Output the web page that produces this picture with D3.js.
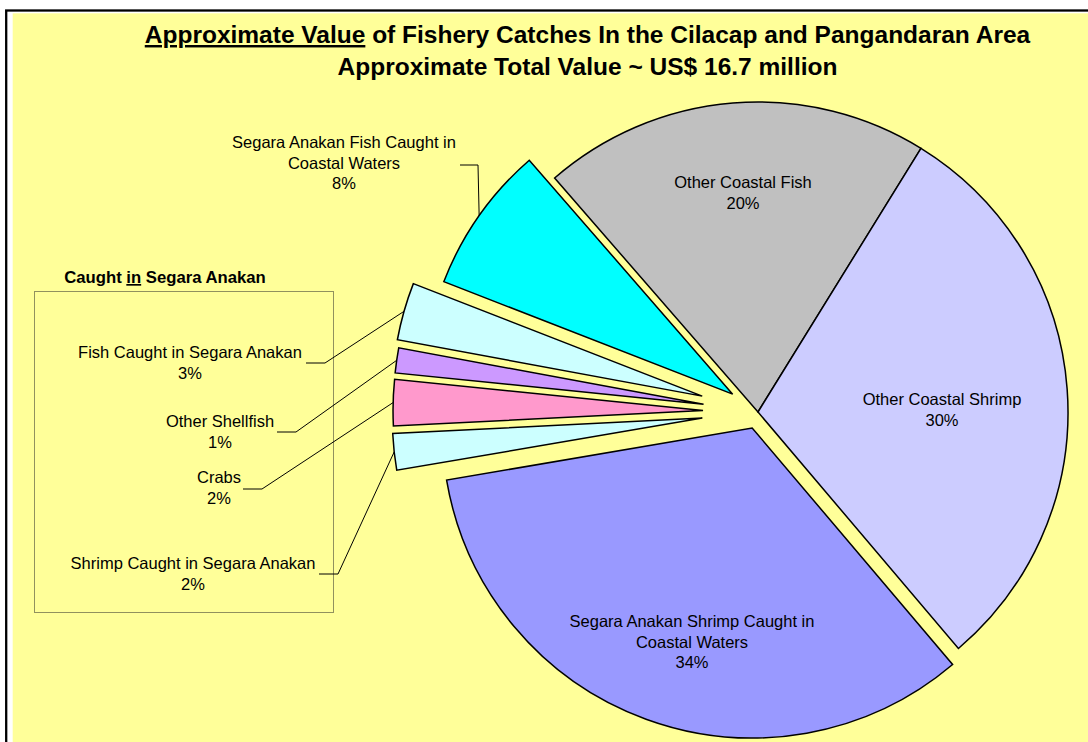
<!DOCTYPE html>
<html>
<head>
<meta charset="utf-8">
<script src="https://cdn.jsdelivr.net/npm/d3@7"></script>
<style>
  body { margin: 0; background: #ffffff; }
  svg { display: block; }
  text { font-family: "Liberation Sans", Arial, sans-serif; fill: #000; }
</style>
</head>
<body>
<div id="chart"></div>
<script>
// Share of total value (percent), clockwise from the top-left
var categories = [
    "Other Coastal Fish",
    "Other Coastal Shrimp",
    "Segara Anakan Shrimp Caught in\nCoastal Waters",
    "Shrimp Caught in Segara Anakan",
    "Crabs",
    "Other Shellfish",
    "Fish Caught in Segara Anakan",
    "Segara Anakan Fish Caught in\nCoastal Waters"
];
var shares = [20.2, 30.0, 33.5, 1.9, 2.4, 1.3, 3.0, 7.7];
var colors = ["#C0C0C0", "#CCCCFF", "#9999FF", "#CCFFFF", "#FF99CC", "#CC99FF", "#CCFFFF", "#00FFFF"];

var titleLine1a = "Approximate Value";
var titleLine1b = " of Fishery Catches In the Cilacap and Pangandaran Area";
var titleLine2 = "Approximate Total Value ~ US$ 16.7 million";

var width = 1088;
var height = 742;

// pie layout
var cx = 758, cy = 412, radius = 310;
var explode = [0, 0, 17, 56, 55, 55, 58, 31];

// label placement: centre x, first baseline, optional leader elbow
var labelPos = [
    {x: 743, y: 188},
    {x: 942, y: 405},
    {x: 692, y: 627},
    {x: 193, y: 569, lx: 319, ly: 574},
    {x: 219, y: 483, lx: 243, ly: 489},
    {x: 220, y: 427, lx: 277, ly: 432},
    {x: 190, y: 358, lx: 306, ly: 363},
    {x: 344, y: 148, lx: 460, ly: 165}
];

var svg = d3.select("#chart").append("svg")
    .attr("width", width)
    .attr("height", height);

// frame
svg.append("rect")
    .attr("x", 6.2)
    .attr("y", 10.5)
    .attr("width", width + 20)
    .attr("height", height + 20)
    .attr("fill", "#ffffff")
    .attr("stroke", "#000")
    .attr("stroke-width", 2.3);

svg.append("rect")
    .attr("x", 12.7)
    .attr("y", 13.3)
    .attr("width", width)
    .attr("height", height)
    .attr("fill", "#FFFF99");

// title
var t1 = svg.append("text")
    .attr("x", 587.5)
    .attr("y", 43)
    .attr("text-anchor", "middle")
    .attr("font-size", "24.5px")
    .attr("font-weight", "bold");
t1.append("tspan")
    .style("text-decoration", "underline")
    .text(titleLine1a);
t1.append("tspan")
    .text(titleLine1b);

svg.append("text")
    .attr("x", 587.5)
    .attr("y", 75)
    .attr("text-anchor", "middle")
    .attr("font-size", "24.5px")
    .attr("font-weight", "bold")
    .text(titleLine2);

// group box for the small slices
svg.append("rect")
    .attr("x", 34.5)
    .attr("y", 291.5)
    .attr("width", 299)
    .attr("height", 321)
    .attr("fill", "none")
    .attr("stroke", "#222")
    .attr("stroke-width", 1)
    .attr("stroke-dasharray", "1,1");

var boxTitle = svg.append("text")
    .attr("x", 165)
    .attr("y", 283)
    .attr("text-anchor", "middle")
    .attr("font-size", "16.7px")
    .attr("font-weight", "bold");
boxTitle.append("tspan").text("Caught ");
boxTitle.append("tspan").style("text-decoration", "underline").text("in");
boxTitle.append("tspan").text(" Segara Anakan");

// pie
var pie = d3.pie()
    .sort(null)
    .startAngle(-41 * Math.PI / 180)
    .endAngle(-41 * Math.PI / 180 + 2 * Math.PI);

var arc = d3.arc()
    .innerRadius(0)
    .outerRadius(radius);

var arcs = pie(shares);

function offset(d, i) {
    var mid = (d.startAngle + d.endAngle) / 2;
    return [Math.sin(mid) * explode[i], -Math.cos(mid) * explode[i]];
}

var pieG = svg.append("g")
    .attr("transform", "translate(" + cx + "," + cy + ")");

pieG.selectAll(".slice")
    .data(arcs)
    .enter()
    .append("path")
    .attr("class", "slice")
    .attr("transform", function(d, i) {
        var o = offset(d, i);
        return "translate(" + o[0] + "," + o[1] + ")";
    })
    .attr("d", arc)
    .attr("fill", function(d, i) { return colors[i]; })
    .attr("stroke", "#000")
    .attr("stroke-width", 1.5)
    .attr("stroke-linejoin", "miter");

// leader lines
arcs.forEach(function(d, i) {
    var p = labelPos[i];
    if (p.lx === undefined) return;
    var o = offset(d, i);
    var mid = (d.startAngle + d.endAngle) / 2;
    var ex = cx + o[0] + Math.sin(mid) * radius;
    var ey = cy + o[1] - Math.cos(mid) * radius;
    var elbowX = p.lx + (i === 7 ? 18 : 19);
    svg.append("polyline")
        .attr("points", [[p.lx, p.ly], [elbowX, p.ly], [ex, ey]].map(function(q) { return q.join(","); }).join(" "))
        .attr("fill", "none")
        .attr("stroke", "#000")
        .attr("stroke-width", 1);
});

// data labels
arcs.forEach(function(d, i) {
    var p = labelPos[i];
    var lines = categories[i].split("\n");
    lines.push(Math.round(shares[i]) + "%");
    var txt = svg.append("text")
        .attr("text-anchor", "middle")
        .attr("font-size", "16.5px");
    lines.forEach(function(line, k) {
        txt.append("tspan")
            .attr("x", p.x)
            .attr("y", p.y + k * 20.7)
            .text(line);
    });
});
</script>
</body>
</html>
